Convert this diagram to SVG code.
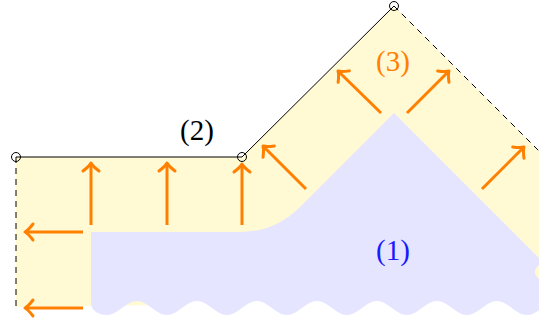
<svg xmlns="http://www.w3.org/2000/svg" width="539" height="325" viewBox="0 0 539 325">
  <defs>
    <style>
      .outline { fill: none; stroke: #000; stroke-width: 1; }
      .dashed { fill: none; stroke: #000; stroke-width: 1; stroke-dasharray: 6 5; }
      .pt { fill: none; stroke: #000; stroke-width: 1; }
      .arrow { fill: none; stroke: #FF8000; stroke-width: 3; marker-end: url(#head); }
      .lbl { font-family: "Liberation Serif", "DejaVu Serif", serif; font-size: 29px; text-anchor: middle; }
    </style>
    <marker id="head" viewBox="-12 -12 24 24" refX="0" refY="0" markerWidth="24" markerHeight="24" markerUnits="userSpaceOnUse" orient="auto">
      <path d="M -8 -8 Q -3 -1.5 0 0 Q -3 1.5 -8 8" fill="none" stroke="#FF8000" stroke-width="3" stroke-linecap="round" stroke-linejoin="round"/>
    </marker>
  </defs>
  <rect width="539" height="325" fill="#fff"/>
  <g id="region-layer">
    <path d="M16,157 L242,157 L394,6 L560,172 L560,290 L180,290 L160,305 L16,307 Z" fill="#FFF9D4"/>
  </g>
  <g id="region-body">
    <path d="M91,232 L240,232 Q275,232 300,207 L394,113 L545,264 C538,264 535,268 535,272 C535,276 538,280 545,280 L557,280 L557,301 C546,301 538,315 527,315 C516,315 508,301 497,301 C486,301 478,315 467,315 C456,315 448,301 437,301 C426,301 418,315 407,315 C396,315 388,301 377,301 C366,301 358,315 347,315 C336,315 328,301 317,301 C306,301 298,315 287,315 C276,315 268,301 257,301 C246,301 238,315 227,315 C216,315 208,301 197,301 C186,301 178,315 167,315 C156,315 148,301 137,301 C126,301 118,315 107,315 C99,315 91,311 91,303 Z" fill="#E5E5FF"/>
  </g>
  <g id="boundary">
    <path class="outline" d="M16,157 L242,157 L394,6"/>
    <path class="dashed" d="M394,6 L560,172"/>
    <path class="dashed" d="M16,157 L16,307"/>
    <circle class="pt" cx="16" cy="157" r="4.5"/>
    <circle class="pt" cx="242" cy="157" r="4.5"/>
    <circle class="pt" cx="394" cy="6" r="4.5"/>
  </g>
  <g id="connectors">
    <line class="arrow" x1="91" y1="225" x2="91" y2="163"/>
    <line class="arrow" x1="167" y1="225" x2="167" y2="163"/>
    <line class="arrow" x1="242" y1="225" x2="242" y2="164"/>
    <line class="arrow" x1="83" y1="232" x2="25" y2="232"/>
    <line class="arrow" x1="83" y1="308" x2="25" y2="308"/>
    <line class="arrow" x1="306" y1="189" x2="263" y2="146"/>
    <line class="arrow" x1="381" y1="113" x2="338" y2="71"/>
    <line class="arrow" x1="407" y1="113" x2="449" y2="71"/>
    <line class="arrow" x1="482" y1="189" x2="524" y2="147"/>
  </g>
  <g id="labels">
    <text class="lbl" x="197" y="140" fill="#000">(2)</text>
    <text class="lbl" x="393" y="71" fill="#FF8000">(3)</text>
    <text class="lbl" x="393" y="260" fill="#1a1aff">(1)</text>
  </g>
</svg>
